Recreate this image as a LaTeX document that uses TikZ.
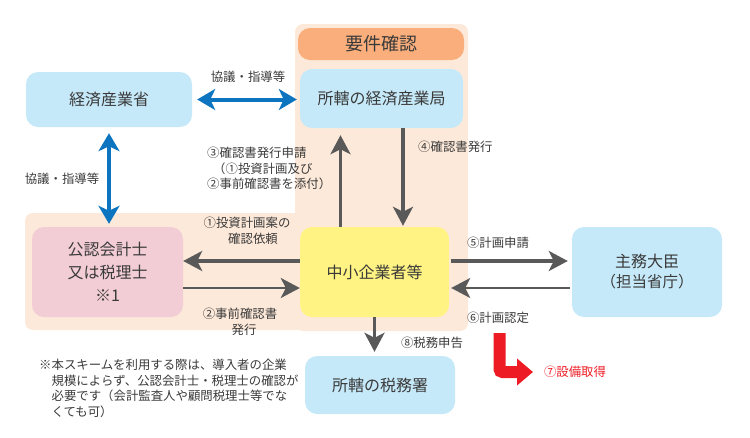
\documentclass[tikz,border=0pt]{standalone}
\usepackage{fontspec}
\setmainfont{Noto Sans CJK JP}
\usetikzlibrary{arrows.meta}
\definecolor{cream}{HTML}{FDE9D9}
\definecolor{hdrorange}{HTML}{F9AE7C}
\definecolor{lblue}{HTML}{C6E9F9}
\definecolor{lpink}{HTML}{F2CDD5}
\definecolor{lyellow}{HTML}{FFF383}
\definecolor{agray}{HTML}{595959}
\definecolor{ablue}{HTML}{0D74C0}
\definecolor{ared}{HTML}{ED1C24}
\definecolor{txt}{HTML}{3A3A3A}
\newcommand\bigjp{\fontsize{16pt}{23pt}\selectfont}
\newcommand\smalljp{\fontsize{12.4pt}{15.5pt}\selectfont}
\begin{document}
\begin{tikzpicture}[x=1pt,y=-1pt,
  box/.style={rounded corners=12pt, inner sep=0pt, align=center, text=txt, font=\bigjp},
  lbl/.style={inner sep=0pt, text=txt, font=\smalljp},
  garrow/.style={draw=agray, line width=3.4pt, -{Stealth[length=19pt,width=20pt,inset=5pt]}},
  garrowthin/.style={draw=agray, line width=2.2pt, -{Stealth[length=19pt,width=20pt,inset=5pt]}},
  barrow/.style={draw=ablue, line width=4pt, {Stealth[length=18pt,width=21pt,inset=5pt]}-{Stealth[length=18pt,width=21pt,inset=5pt]}}
]
\useasboundingbox (0,0) rectangle (750,437);
% cream background regions
\fill[cream, rounded corners=8pt] (25,213) rectangle (305,330);
\fill[cream, rounded corners=8pt] (295,24) rectangle (468,331);
% header
\node[box, fill=hdrorange, minimum width=166pt, minimum height=32pt, font=\fontsize{18pt}{20pt}\selectfont] (hdr) at (381,44) {要件確認};
% boxes
\node[box, fill=lblue, minimum width=166pt, minimum height=55pt] (keizai) at (109,99.5) {経済産業省};
\node[box, fill=lblue, minimum width=163pt, minimum height=59pt] (kyoku) at (381.5,98.5) {所轄の経済産業局};
\node[box, fill=lpink, minimum width=151pt, minimum height=90pt] (kounin) at (107.5,272) {公認会計士\\又は税理士\\※1};
\node[box, fill=lyellow, minimum width=149pt, minimum height=90pt] (chusho) at (374.5,272) {中小企業者等};
\node[box, fill=lblue, minimum width=150pt, minimum height=58pt] (zeimu) at (380,385) {所轄の税務署};
\node[box, fill=lblue, minimum width=150pt, minimum height=90pt] (shumu) at (647,272) {主務大臣\\[-3pt]{\fontsize{15.5pt}{18pt}\selectfont （担当省庁）}};
% blue arrows
\draw[barrow, shorten <=5pt, shorten >=3pt] (keizai.east) -- (keizai.east -| kyoku.west);
\draw[barrow, shorten <=6pt, shorten >=3pt] (keizai.south) -- (keizai.south |- kounin.north);
% gray arrows
\draw[garrow] ([yshift=11pt]chusho.west) -- ([yshift=11pt]chusho.west -| kounin.east);
\draw[garrowthin] ([yshift=-16pt]kounin.east) -- ([yshift=-16pt]kounin.east -| chusho.west);
\draw[garrow, shorten >=7pt] ([xshift=-34pt]chusho.north) -- ([xshift=-34pt]chusho.north |- kyoku.south);
\draw[garrow, shorten >=1pt] ([xshift=28.5pt]chusho.north |- kyoku.south) -- ([xshift=28.5pt]chusho.north);
\draw[garrow, shorten <=2pt, shorten >=4pt] ([yshift=11pt]chusho.east) -- ([yshift=11pt]chusho.east -| shumu.west);
\draw[garrowthin, shorten <=2pt, shorten >=2pt] ([yshift=-16pt]shumu.west) -- ([yshift=-16pt]shumu.west -| chusho.east);
\draw[garrow, shorten >=4pt] (chusho.south) -- (chusho.south |- zeimu.north);
% red arrow
\coordinate (rtop) at (499.5,333);
\coordinate (rend) at (533,372);
\draw[ared, line width=12pt, rounded corners=3pt, -{Triangle[length=16pt,width=26pt]}] (rtop) |- (rend);
% labels
\node[lbl] (l1) at (248,77) {協議・指導等};
\node[lbl] (l2) at (62,179) {協議・指導等};
\node[lbl, anchor=north west, align=left] (l3) at (207,147) {③確認書発行申請\\\hspace*{6pt}（①投資計画及び\\②事前確認書を添付）};
\node[lbl, anchor=west] (l4) at (418,147) {④確認書発行};
\node[lbl, align=center] (l5) at (247,231) {①投資計画案の\\\hspace*{12pt}確認依頼};
\node[lbl, align=center] (l6) at (240,322) {②事前確認書\\\hspace*{8pt}発行};
\node[lbl] (l7) at (498,243) {⑤計画申請};
\node[lbl] (l8) at (498,318) {⑥計画認定};
\node[lbl] (l9) at (432,343) {⑧税務申告};
\node[lbl, text=ared] (l10) at (575,372) {⑦設備取得};
\node[lbl, anchor=north west, align=left] (note) at (39,359) {※本スキームを利用する際は、導入者の企業\\\hspace*{12.4pt}規模によらず、公認会計士・税理士の確認が\\\hspace*{12.4pt}必要です（会計監査人や顧問税理士等でな\\\hspace*{12.4pt}くても可）};
\end{tikzpicture}
\end{document}
